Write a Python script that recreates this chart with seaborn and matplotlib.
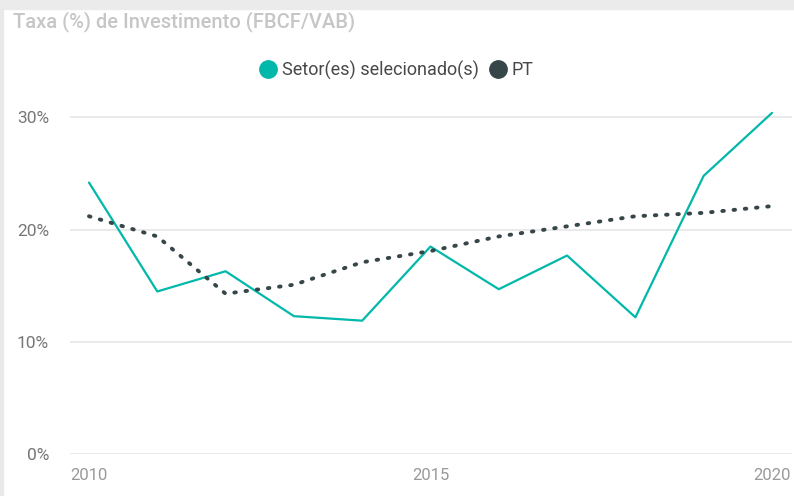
import matplotlib
matplotlib.use("Agg")
import matplotlib.pyplot as plt
import matplotlib.patches as mpatches
from matplotlib.lines import Line2D
from matplotlib.ticker import FuncFormatter
import pandas as pd
import seaborn as sns

# data (% of VAB)
years = list(range(2010, 2021))
setor = [24.2, 14.5, 16.3, 12.3, 11.9, 18.5, 14.7, 17.7, 12.2, 24.8, 30.4]
pt = [21.2, 19.4, 14.3, 15.1, 17.1, 18.1, 19.4, 20.3, 21.2, 21.5, 22.1]
x_ticks = [2010, 2015, 2020]
y_ticks = [0, 10, 20, 30]

TEAL = "#01B8AA"
DARK = "#374649"

df = pd.DataFrame({"ano": years, "setor": setor, "pt": pt})

sns.set_style("white")
plt.rcParams["font.family"] = ["Roboto", "DejaVu Sans"]

fig = plt.figure(figsize=(7.94, 4.96), dpi=100)
ax = fig.add_axes([70 / 794, (496 - 454.3) / 496, 722 / 794, (454.3 - 100) / 496])

# frame bits of the dashboard tile
fig.patches.append(mpatches.Rectangle((0, 1 - 9 / 496), 1, 9 / 496, transform=fig.transFigure,
                                      color="#ebebeb", zorder=0))
fig.patches.append(mpatches.Rectangle((0, 0), 3 / 794, 1 - 9 / 496, transform=fig.transFigure,
                                      color="#e9e9e9", zorder=0))

sns.lineplot(data=df, x="ano", y="setor", ax=ax, color=TEAL, linewidth=1.6, zorder=3)
sns.lineplot(data=df, x="ano", y="pt", ax=ax, color=DARK, linewidth=2.8, zorder=4,
             dashes=False)
ax.lines[-1].set_dashes((0.4, 2.5))
ax.lines[-1].set_dash_capstyle("round")

ax.set_xlim(2009.722, 2020.293)
ax.set_ylim(0, 31.55)
ax.set_xticks(x_ticks)
ax.set_yticks(y_ticks)
ax.yaxis.set_major_formatter(FuncFormatter(lambda v, _: f"{v:.0f}%"))
ax.grid(axis="y", color="#e6e6e6", linewidth=1.2)
ax.grid(axis="x", visible=False)
for s in ax.spines.values():
    s.set_visible(False)
ax.set_xlabel("")
ax.set_ylabel("")
ax.tick_params(axis="y", length=0, pad=15, labelsize=12.5, labelcolor="#777777")
ax.tick_params(axis="x", length=0, pad=10, labelsize=12, labelcolor="#999999")

fig.text(13 / 794, 1 - 22 / 496, "Taxa (%) de Investimento (FBCF/VAB)", fontsize=14.5,
         color="#c6c6c6", va="center", ha="left", fontweight="medium")

handles = [Line2D([], [], marker="o", linestyle="", markersize=12.5, color=TEAL),
           Line2D([], [], marker="o", linestyle="", markersize=12.5, color=DARK)]
fig.legend(handles, ["Setor(es) selecionado(s)", "PT"], loc="center",
           bbox_to_anchor=(0.498, 1 - 70 / 496), ncol=2, frameon=False,
           handletextpad=0.15, columnspacing=0.5, handlelength=1.2,
           prop={"size": 13}, labelcolor="#484848")

fig.savefig("out.png", dpi=100)
